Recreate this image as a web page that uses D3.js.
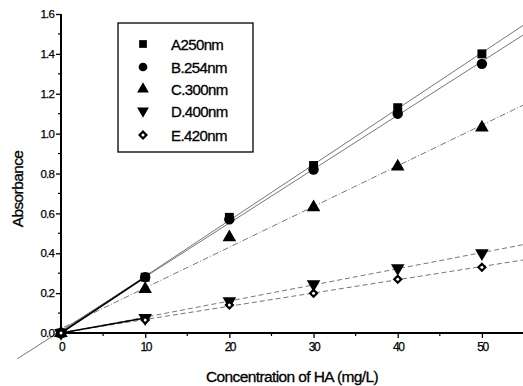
<!DOCTYPE html>
<html>
<head>
<meta charset="utf-8">
<script src="https://cdn.jsdelivr.net/npm/d3@7"></script>
<style>
  body { margin: 0; background: #fff; }
  svg { font-family: "Liberation Sans", Arial, sans-serif; }
</style>
</head>
<body>
<svg id="canvas" width="523" height="386"></svg>
<script>
const CONC = [0, 10, 20, 30, 40, 50];
const SERIES = ["A250nm", "B.254nm", "C.300nm", "D.400nm", "E.420nm"];
const A_VALUES = [0, 0.28, 0.58, 0.84, 1.13, 1.40];
const B_VALUES = [0, 0.28, 0.57, 0.82, 1.10, 1.35];
const C_VALUES = [0, 0.22, 0.48, 0.63, 0.835, 1.03];
const D_VALUES = [0, 0.075, 0.16, 0.245, 0.325, 0.40];
const E_VALUES = [0, 0.065, 0.14, 0.20, 0.27, 0.33];
const Y_TICKS = [0, 0.2, 0.4, 0.6, 0.8, 1.0, 1.2, 1.4, 1.6];
const X_TICKS = [0, 10, 20, 30, 40, 50];

const SYMBOLS = [d3.symbolSquare, d3.symbolCircle, d3.symbolTriangle, "down", "diamond"];
const VALUES = [A_VALUES, B_VALUES, C_VALUES, D_VALUES, E_VALUES];
const DASH = [null, null, "6,2,1,2", "5,3", "5,3"];

const svg = d3.select("#canvas");

const x = d3.scaleLinear().domain([0, 55]).range([61, 524]);
const y = d3.scaleLinear().domain([0, 1.6]).range([333, 14]);

// least squares fit through the points
function fit(vals) {
    const n = CONC.length;
    const mx = d3.mean(CONC), my = d3.mean(vals);
    let sxy = 0, sxx = 0;
    for (let i = 0; i < n; i++) {
        sxy += (CONC[i] - mx) * (vals[i] - my);
        sxx += (CONC[i] - mx) ** 2;
    }
    const k = sxy / sxx;
    return { k: k, b: my - k * mx };
}

// fit lines
VALUES.forEach((vals, i) => {
    const f = fit(vals);
    const x0 = i === 1 ? -5.2 : -0.8, x1 = 55.5;
    svg.append("line")
        .attr("x1", x(x0)).attr("y1", y(f.k * x0 + f.b))
        .attr("x2", x(x1)).attr("y2", y(f.k * x1 + f.b))
        .attr("stroke", "#666")
        .attr("stroke-width", 0.9)
        .attr("stroke-dasharray", DASH[i]);
});

// dark first segments
[0, 3].forEach(i => {
    svg.append("line")
        .attr("x1", x(0)).attr("y1", y(0))
        .attr("x2", x(10)).attr("y2", y(VALUES[i][1]))
        .attr("stroke", "#000")
        .attr("stroke-width", 1.6);
});

// axes
const yAxis = d3.axisLeft(y).tickValues(Y_TICKS).tickFormat(d3.format(".1f")).tickSize(5).tickPadding(2);
const gy = svg.append("g").attr("transform", "translate(61,0)").call(yAxis);
gy.selectAll(".tick line").attr("stroke-width", 1.3);
gy.select(".domain").attr("stroke-width", 2).attr("d", "M0,14V334");
gy.selectAll("text").attr("font-size", 11.5).attr("letter-spacing", -0.8).attr("fill", "#000")
    .attr("stroke", "#000").attr("stroke-width", 0.25);
gy.selectAll(".minor").data(d3.range(0.1, 1.6, 0.2)).enter()
    .append("line").attr("x1", 0).attr("x2", -3)
    .attr("y1", d => y(d)).attr("y2", d => y(d))
    .attr("stroke", "#000").attr("stroke-width", 1.2);

const xAxis = d3.axisBottom(x).tickValues(X_TICKS).tickSize(5).tickPadding(4);
const gx = svg.append("g").attr("transform", "translate(0,333)").call(xAxis);
gx.select(".domain").attr("stroke-width", 2).attr("d", "M60,0H523");
gx.selectAll(".tick line").attr("stroke-width", 1.3);
gx.selectAll("text").attr("font-size", 12).attr("letter-spacing", -1.5).attr("fill", "#000")
    .attr("stroke", "#000").attr("stroke-width", 0.25);
gx.selectAll(".minor").data([5, 15, 25, 35, 45]).enter()
    .append("line").attr("x1", d => x(d)).attr("x2", d => x(d))
    .attr("y1", 0).attr("y2", 3)
    .attr("stroke", "#000").attr("stroke-width", 1.2);

// marker drawing
function marker(g, s, size) {
    if (s === "down") {
        g.append("path").attr("d", d3.symbol(d3.symbolTriangle, size)()).attr("transform", "rotate(180)").attr("fill", "#000");
    } else if (s === "diamond") {
        g.append("path").attr("d", "M0,-5L5,0L0,5L-5,0Z").attr("fill", "#000");
        g.append("circle").attr("r", 1.5).attr("fill", "#fff");
    } else {
        g.append("path").attr("d", d3.symbol(s, size)()).attr("fill", "#000");
    }
}

VALUES.forEach((vals, i) => {
    svg.append("g").selectAll("g").data(CONC).enter()
        .append("g")
        .attr("transform", (d, j) => `translate(${x(d)},${y(vals[j])})`)
        .each(function () { marker(d3.select(this), SYMBOLS[i], i === 1 ? 85 : 80); });
});

// legend
const legend = svg.append("g");
legend.append("rect").attr("x", 118).attr("y", 23).attr("width", 135).attr("height", 129)
    .attr("fill", "#fff").attr("stroke", "#000").attr("stroke-width", 1.3);
const ROWS = [44, 67, 89, 111, 135];
SERIES.forEach((name, i) => {
    const g = legend.append("g").attr("transform", `translate(143,${ROWS[i]})`);
    marker(g, SYMBOLS[i], 60);
    legend.append("text").attr("x", 171).attr("y", ROWS[i] + 5.5)
        .attr("font-size", 15).attr("letter-spacing", -0.6)
        .attr("stroke", "#000").attr("stroke-width", 0.3).text(name);
});

// axis titles
svg.append("text").attr("x", 292).attr("y", 382).attr("text-anchor", "middle")
    .attr("font-size", 15.5).attr("letter-spacing", -0.6)
    .attr("stroke", "#000").attr("stroke-width", 0.3).text("Concentration of HA (mg/L)");
svg.append("text").attr("transform", "translate(23,189) rotate(-90)").attr("text-anchor", "middle")
    .attr("font-size", 15.5).attr("letter-spacing", -0.6)
    .attr("stroke", "#000").attr("stroke-width", 0.3).text("Absorbance");
</script>
</body>
</html>
